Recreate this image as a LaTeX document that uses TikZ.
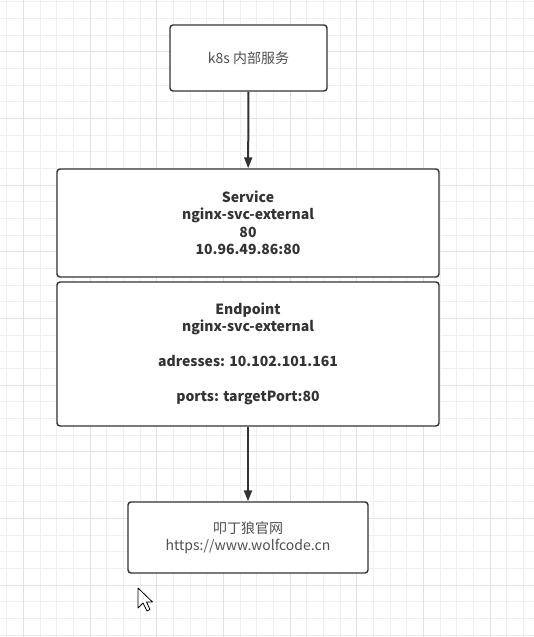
\documentclass[tikz,border=0pt]{standalone}
\usepackage{fontspec}
\usepackage{tikz}
\usetikzlibrary{arrows.meta}
\newfontfamily\cjk{Noto Sans CJK SC}

\definecolor{boxline}{HTML}{333333}
\definecolor{gridminor}{HTML}{EFEFEF}
\definecolor{gridmajor}{HTML}{E2E2E2}
\definecolor{textdark}{HTML}{333333}
\definecolor{textgray}{HTML}{505050}

\begin{document}
\begin{tikzpicture}[x=1pt,y=-1pt,
    box/.style={draw=boxline, line width=1.4pt, rounded corners=3pt, fill=white,
      align=center, inner sep=0pt, font=\cjk\fontsize{14}{17.5}\selectfont},
    flow/.style={draw=boxline, line width=2pt, -{Triangle[length=11pt,width=8pt]}}]
    \fill[white] (0,0) rectangle (534,637);
    \useasboundingbox (0,0) rectangle (534,637);
    % grid
    \foreach \i in {0,...,31} {
      \draw[gridminor, line width=1pt] (6.67+16.67*\i,0) -- (6.67+16.67*\i,637);
    }
    \foreach \i in {0,...,38} {
      \draw[gridminor, line width=1pt] (0,1.7+16.67*\i) -- (534,1.7+16.67*\i);
    }
    \foreach \i in {0,...,7} {
      \draw[gridmajor, line width=1pt] (23.33+66.67*\i,0) -- (23.33+66.67*\i,637);
    }
    \foreach \i in {0,...,9} {
      \draw[gridmajor, line width=1pt] (0,51.7+66.67*\i) -- (534,51.7+66.67*\i);
    }

    \node[box, text=textgray, minimum width=157pt, minimum height=66pt] (k8s) at (248.5,58) {k8s 内部服务};
    \node[box, text=textdark, minimum width=382pt, minimum height=108pt] (svc) at (248,223)
      {\bfseries Service\\ \bfseries nginx-svc-external\\ \bfseries 80\\ \bfseries 10.96.49.86:80};
    \node[box, text=textdark, minimum width=382pt, minimum height=144pt] (ep) at (248,354)
      {\bfseries Endpoint\\ \bfseries nginx-svc-external\\[17.5pt] \bfseries adresses: 10.102.101.161\\[17.5pt] \bfseries ports: targetPort:80};
    \node[box, text=textgray, minimum width=240pt, minimum height=71pt] (web) at (248,537.5)
      {叩丁狼官网\\ https://www.wolfcode.cn};

    \draw[flow] (k8s) -- (svc);
    \draw[flow] (ep) -- (web);

    % mouse pointer
    \draw[fill=white, line width=0.8pt, line join=round]
      (138,588) -- (138,608) -- (143,603) -- (147,611) -- (150,609.5) -- (146.5,602) -- (152.5,602) -- cycle;
\end{tikzpicture}
\end{document}
